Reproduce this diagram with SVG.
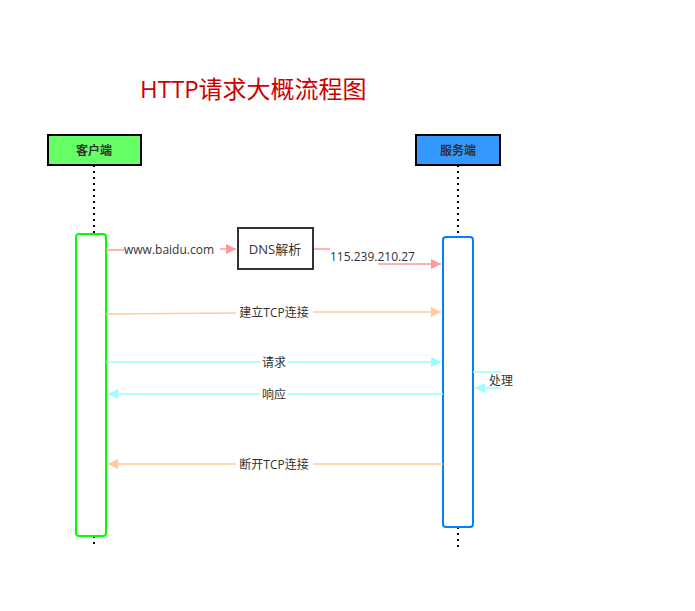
<svg xmlns="http://www.w3.org/2000/svg" width="695" height="611" viewBox="0 0 695 611">
<style>
text{font-family:"Open Sans","Noto Sans CJK SC",sans-serif;font-size:12px;fill:#333}
.life{stroke:#000;stroke-width:2;stroke-dasharray:2 4}
.c{fill:none;stroke-width:1.5}
</style>
<defs>
<marker id="ar" viewBox="0 0 10 10" refX="10" refY="5" markerWidth="16" markerHeight="10" markerUnits="userSpaceOnUse" orient="auto"><path d="M0,0L10,5L0,10z" fill="#f99"/></marker>
<marker id="ao" viewBox="0 0 10 10" refX="10" refY="5" markerWidth="16" markerHeight="10" markerUnits="userSpaceOnUse" orient="auto"><path d="M0,0L10,5L0,10z" fill="#fc9"/></marker>
<marker id="ac" viewBox="0 0 10 10" refX="10" refY="5" markerWidth="16" markerHeight="10" markerUnits="userSpaceOnUse" orient="auto"><path d="M0,0L10,5L0,10z" fill="#9ff"/></marker>
</defs>
<rect width="695" height="611" fill="#fff"/>
<text x="140" y="98" style="font-size:24px;fill:#c00">HTTP请求大概流程图</text>
<g id="client">
<line class="life" x1="94" y1="165" x2="94" y2="234"/>
<line class="life" x1="94" y1="536" x2="94" y2="548"/>
<rect x="48" y="135" width="93" height="30" fill="#66ff66" stroke="#000" stroke-width="2"/>
<text x="94" y="155" text-anchor="middle" style="font-weight:bold">客户端</text>
<rect x="76" y="234" width="30" height="302" rx="3" fill="#fff" stroke="#00ff00" stroke-width="2"/>
</g>
<g id="server">
<line class="life" x1="458" y1="165" x2="458" y2="237"/>
<line class="life" x1="458" y1="527" x2="458" y2="548"/>
<rect x="416" y="135" width="84" height="30" fill="#3399ff" stroke="#000" stroke-width="2"/>
<text x="458" y="155" text-anchor="middle" style="font-weight:bold">服务端</text>
<rect x="443" y="237" width="30" height="290" rx="3" fill="#fff" stroke="#007fff" stroke-width="2"/>
</g>
<g id="dns">
<rect x="238" y="228" width="75" height="41" fill="#fff" stroke="#333" stroke-width="2"/>
<text x="275" y="254" text-anchor="middle" style="font-size:13px">DNS解析</text>
</g>
<g id="connectors">
<line class="c" stroke="#f99" x1="106" y1="250" x2="124" y2="250"/>
<line class="c" stroke="#f99" x1="220" y1="249" x2="236" y2="249" marker-end="url(#ar)"/>
<text x="124" y="254">www.baidu.com</text>
<line class="c" stroke="#f99" x1="314" y1="249" x2="330" y2="249"/>
<text x="330" y="261">115.239.210.27</text>
<line class="c" stroke="#f99" x1="378" y1="264" x2="441" y2="264" marker-end="url(#ar)"/>
<line class="c" stroke="#fc9" x1="106" y1="314" x2="236" y2="313"/>
<line class="c" stroke="#fc9" x1="313" y1="312" x2="441" y2="312" marker-end="url(#ao)"/>
<text x="274" y="317" text-anchor="middle">建立TCP连接</text>
<line class="c" stroke="#9ff" x1="106" y1="362" x2="260" y2="362"/>
<line class="c" stroke="#9ff" x1="288" y1="362" x2="441" y2="362" marker-end="url(#ac)"/>
<text x="274" y="367" text-anchor="middle">请求</text>
<path class="c" stroke="#9ff" d="M473,372H502M502,388H475" marker-end="url(#ac)"/>
<text x="489" y="385">处理</text>
<line class="c" stroke="#9ff" x1="443" y1="394" x2="288" y2="394"/>
<line class="c" stroke="#9ff" x1="260" y1="394" x2="108" y2="394" marker-end="url(#ac)"/>
<text x="274" y="399" text-anchor="middle">响应</text>
<line class="c" stroke="#fc9" x1="443" y1="464" x2="313" y2="464"/>
<line class="c" stroke="#fc9" x1="236" y1="464" x2="108" y2="464" marker-end="url(#ao)"/>
<text x="274" y="469" text-anchor="middle">断开TCP连接</text>
</g>
</svg>
